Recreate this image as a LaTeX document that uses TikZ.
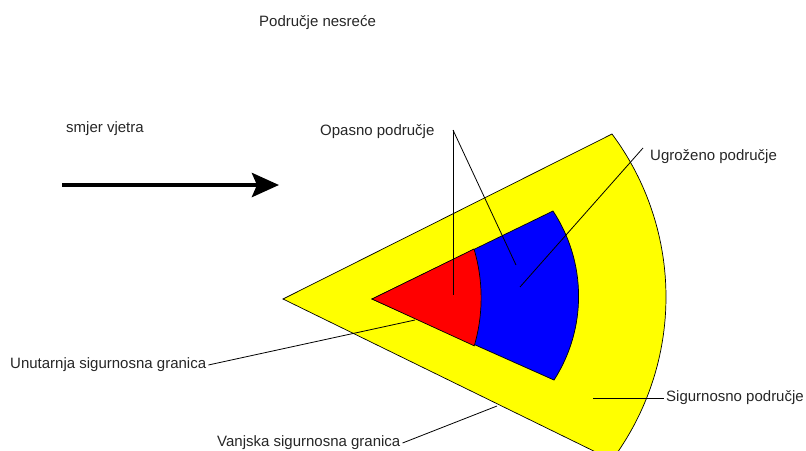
\documentclass[tikz,border=0pt]{standalone}
\usepackage{xcolor}
\definecolor{zonazuta}{RGB}{255,255,0}
\definecolor{zonaplava}{RGB}{0,0,255}
\definecolor{zonacrvena}{RGB}{255,0,0}
\usepackage{fontspec}
\setmainfont{Liberation Sans}
\usepackage{tikz}
\usetikzlibrary{arrows.meta}

\begin{document}
\begin{tikzpicture}[x=1pt, y=-1pt,
    oznaka/.style={anchor=west, inner sep=2pt, text=black!85,
                   font=\fontsize{15}{18}\selectfont},
    vodilica/.style={draw=black, line width=0.8pt},
    zona/.style={draw=black, line width=0.7pt}]
    \useasboundingbox (0,0) rectangle (806,450);
    \clip (0,0) rectangle (806,450);

    \node[oznaka] (nesreca) at (257,23) {Područje nesreće};
    \node[oznaka] (vjetar) at (64,129) {smjer vjetra};
    \node[oznaka] (opasno) at (318,132) {Opasno područje};
    \node[oznaka] (ugrozeno) at (648,157) {Ugroženo područje};
    \node[oznaka] (unutarnja) at (8,365) {Unutarnja sigurnosna granica};
    \node[oznaka] (vanjska) at (215,443) {Vanjska sigurnosna granica};
    \node[oznaka] (sigurnosno) at (664,398) {Sigurnosno područje};

    \coordinate (vjetarA) at (62,185);
    \coordinate (vjetarB) at (279,185);
    \draw[line width=4.5pt, -{Stealth[length=27pt, width=24pt, inset=5pt]}]
      (vjetarA) -- (vjetarB);

    \path[zona, fill=zonazuta] (283,299) -- (612,134)
      arc[start angle=36.66, end angle=-36.66, radius=273pt] -- cycle;
    \path[zona, fill=zonaplava] (372,299) -- (553,211)
      arc[start angle=33.4, end angle=-32.7, radius=155pt] -- cycle;
    \path[zona, fill=zonacrvena] (372,299) -- (474,249)
      arc[start angle=16.6, end angle=-16.3, radius=171pt] -- cycle;

    \coordinate (opasnoK) at (453,130);
    \coordinate (crvenaT) at (453,295);
    \coordinate (plavaT) at (516,265);
    \coordinate (ugrozenoK) at (643,148);
    \coordinate (ugrozenoT) at (520,287);
    \coordinate (unutarnjaT) at (415,320);
    \coordinate (vanjskaT) at (497,406);
    \coordinate (sigurnosnoT) at (593,398);

    \draw[vodilica] (opasnoK) -- (crvenaT);
    \draw[vodilica] (opasnoK) -- (plavaT);
    \draw[vodilica] (ugrozenoK) -- (ugrozenoT);
    \draw[vodilica] (unutarnja.east) -- (unutarnjaT);
    \draw[vodilica] (vanjska.east) -- (vanjskaT);
    \draw[vodilica] (sigurnosnoT) -- (sigurnosno.west);
  \end{tikzpicture}
\end{document}
